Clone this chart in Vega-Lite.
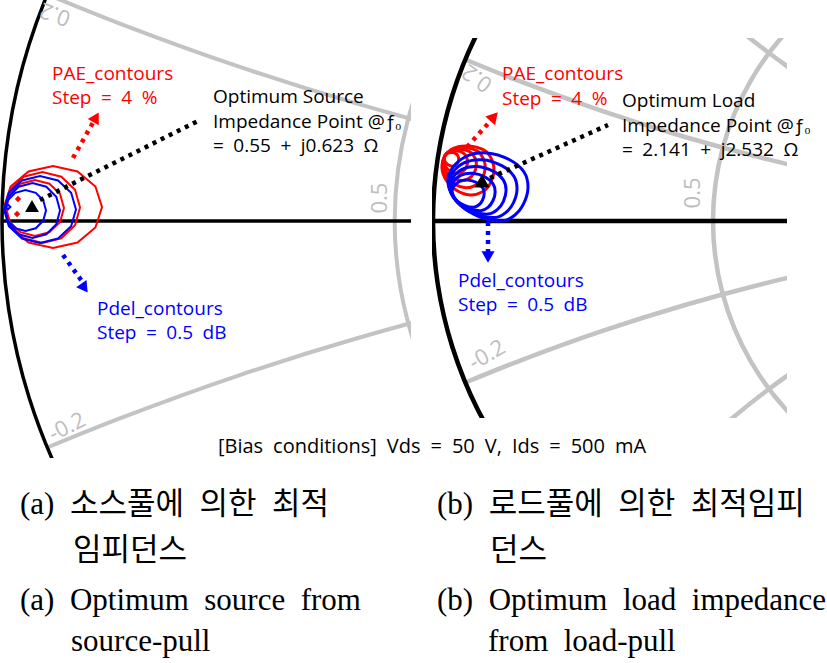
{
  "$schema": "https://vega.github.io/schema/vega-lite/v6.json",
  "padding": 0,
  "spacing": 0,
  "config": {"view": {"stroke": null}, "font": "Open Sans"},
  "datasets": {
    "smithGray": [
      {"c":"x+0.2","i":0,"gx":-0.923,"gy":0.3846},{"c":"x+0.2","i":1,"gx":-0.8,"gy":0.3352},{"c":"x+0.2","i":2,"gx":-0.6,"gy":0.2629},{"c":"x+0.2","i":3,"gx":-0.4,"gy":0.2},{"c":"x+0.2","i":4,"gx":-0.2,"gy":0.1461},{"c":"x+0.2","i":5,"gx":0,"gy":0.101},
      {"c":"x-0.2","i":0,"gx":-0.923,"gy":-0.3846},{"c":"x-0.2","i":1,"gx":-0.8,"gy":-0.3352},{"c":"x-0.2","i":2,"gx":-0.6,"gy":-0.2629},{"c":"x-0.2","i":3,"gx":-0.4,"gy":-0.2},{"c":"x-0.2","i":4,"gx":-0.2,"gy":-0.1461},{"c":"x-0.2","i":5,"gx":0,"gy":-0.101},
      {"c":"r0.5","i":0,"gx":0.1053,"gy":0.6265},{"c":"r0.5","i":1,"gx":0,"gy":0.5774},{"c":"r0.5","i":2,"gx":-0.1381,"gy":0.4714},{"c":"r0.5","i":3,"gx":-0.244,"gy":0.3333},{"c":"r0.5","i":4,"gx":-0.3106,"gy":0.1725},{"c":"r0.5","i":5,"gx":-0.3333,"gy":0},{"c":"r0.5","i":6,"gx":-0.3106,"gy":-0.1725},{"c":"r0.5","i":7,"gx":-0.244,"gy":-0.3333},{"c":"r0.5","i":8,"gx":-0.1381,"gy":-0.4714},{"c":"r0.5","i":9,"gx":0,"gy":-0.5774},{"c":"r0.5","i":10,"gx":0.1053,"gy":-0.6265},
      {"c":"x+0.5","i":0,"gx":-0.6,"gy":0.8},{"c":"x+0.5","i":1,"gx":-0.5,"gy":0.6771},{"c":"x+0.5","i":2,"gx":-0.4,"gy":0.5717},{"c":"x+0.5","i":3,"gx":-0.3,"gy":0.4801},{"c":"x+0.5","i":4,"gx":-0.2,"gy":0.4},{"c":"x+0.5","i":5,"gx":-0.1,"gy":0.3297},{"c":"x+0.5","i":6,"gx":0,"gy":0.2679},
      {"c":"x-0.5","i":0,"gx":-0.6,"gy":-0.8},{"c":"x-0.5","i":1,"gx":-0.5,"gy":-0.6771},{"c":"x-0.5","i":2,"gx":-0.4,"gy":-0.5717},{"c":"x-0.5","i":3,"gx":-0.3,"gy":-0.4801},{"c":"x-0.5","i":4,"gx":-0.2,"gy":-0.4},{"c":"x-0.5","i":5,"gx":-0.1,"gy":-0.3297},{"c":"x-0.5","i":6,"gx":0,"gy":-0.2679}
    ],
    "smithBlack": [
      {"c":"r0","i":0,"gx":-0.8,"gy":0.6},{"c":"r0","i":1,"gx":-0.893,"gy":0.45},{"c":"r0","i":2,"gx":-0.9539,"gy":0.3},{"c":"r0","i":3,"gx":-0.9887,"gy":0.15},{"c":"r0","i":4,"gx":-1,"gy":0},{"c":"r0","i":5,"gx":-0.9887,"gy":-0.15},{"c":"r0","i":6,"gx":-0.9539,"gy":-0.3},{"c":"r0","i":7,"gx":-0.893,"gy":-0.45},{"c":"r0","i":8,"gx":-0.8,"gy":-0.6},
      {"c":"real","i":0,"gx":-1,"gy":0},{"c":"real","i":1,"gx":1,"gy":0}
    ],
    "labelsL": [
      {"t":"0.2","gx":-0.91,"gy":0.3514},{"t":"0.5","gx":-0.3582,"gy":0.039},{"t":"-0.2","gx":-0.8896,"gy":-0.3497}
    ],
    "labelsR": [
      {"t":"0.2","gx":-0.8952,"gy":0.3405},{"t":"0.5","gx":-0.381,"gy":0.0667},{"t":"-0.2","gx":-0.8714,"gy":-0.319}
    ],
    "paeL": [
      {"c":"R1","i":0,"gx":-0.8302,"gy":0.0238},{"c":"R1","i":1,"gx":-0.8414,"gy":0.0586},{"c":"R1","i":2,"gx":-0.8718,"gy":0.0841},{"c":"R1","i":3,"gx":-0.9134,"gy":0.0934},{"c":"R1","i":4,"gx":-0.955,"gy":0.0841},{"c":"R1","i":5,"gx":-0.9855,"gy":0.0586},{"c":"R1","i":6,"gx":-0.9966,"gy":0.0238},{"c":"R1","i":7,"gx":-0.9855,"gy":-0.011},{"c":"R1","i":8,"gx":-0.955,"gy":-0.0365},{"c":"R1","i":9,"gx":-0.9134,"gy":-0.0458},{"c":"R1","i":10,"gx":-0.8718,"gy":-0.0365},{"c":"R1","i":11,"gx":-0.8414,"gy":-0.011},
      {"c":"R2","i":0,"gx":-0.8675,"gy":0.0229},{"c":"R2","i":1,"gx":-0.876,"gy":0.0531},{"c":"R2","i":2,"gx":-0.8993,"gy":0.0751},{"c":"R2","i":3,"gx":-0.9312,"gy":0.0832},{"c":"R2","i":4,"gx":-0.9631,"gy":0.0751},{"c":"R2","i":5,"gx":-0.9864,"gy":0.0531},{"c":"R2","i":6,"gx":-0.9949,"gy":0.0229},{"c":"R2","i":7,"gx":-0.9864,"gy":-0.0073},{"c":"R2","i":8,"gx":-0.9631,"gy":-0.0293},{"c":"R2","i":9,"gx":-0.9312,"gy":-0.0374},{"c":"R2","i":10,"gx":-0.8993,"gy":-0.0293},{"c":"R2","i":11,"gx":-0.876,"gy":-0.0073},
      {"c":"R3","i":0,"gx":-0.8948,"gy":0.0221},{"c":"R3","i":1,"gx":-0.9014,"gy":0.0459},{"c":"R3","i":2,"gx":-0.9194,"gy":0.0632},{"c":"R3","i":3,"gx":-0.944,"gy":0.0696},{"c":"R3","i":4,"gx":-0.9686,"gy":0.0632},{"c":"R3","i":5,"gx":-0.9866,"gy":0.0459},{"c":"R3","i":6,"gx":-0.9932,"gy":0.0221},{"c":"R3","i":7,"gx":-0.9866,"gy":-0.0017},{"c":"R3","i":8,"gx":-0.9686,"gy":-0.019},{"c":"R3","i":9,"gx":-0.944,"gy":-0.0254},{"c":"R3","i":10,"gx":-0.9194,"gy":-0.019},{"c":"R3","i":11,"gx":-0.9014,"gy":-0.0017},
      {"c":"R4a","i":0,"gx":-0.9698,"gy":0.0374},{"c":"R4a","i":1,"gx":-0.9728,"gy":0.0404},{"c":"R4a","i":2,"gx":-0.9758,"gy":0.0374},{"c":"R4a","i":3,"gx":-0.9728,"gy":0.0344},
      {"c":"R4b","i":0,"gx":-0.9715,"gy":0.0119},{"c":"R4b","i":1,"gx":-0.9745,"gy":0.0149},{"c":"R4b","i":2,"gx":-0.9775,"gy":0.0119},{"c":"R4b","i":3,"gx":-0.9745,"gy":0.0089}
    ],
    "pdelL": [
      {"c":"B1","i":0,"gx":-0.8744,"gy":0.0195},{"c":"B1","i":1,"gx":-0.8826,"gy":0.048},{"c":"B1","i":2,"gx":-0.9049,"gy":0.0688},{"c":"B1","i":3,"gx":-0.9355,"gy":0.0764},{"c":"B1","i":4,"gx":-0.9661,"gy":0.0688},{"c":"B1","i":5,"gx":-0.9884,"gy":0.048},{"c":"B1","i":6,"gx":-0.9966,"gy":0.0195},{"c":"B1","i":7,"gx":-0.9884,"gy":-0.009},{"c":"B1","i":8,"gx":-0.9661,"gy":-0.0298},{"c":"B1","i":9,"gx":-0.9355,"gy":-0.0374},{"c":"B1","i":10,"gx":-0.9049,"gy":-0.0298},{"c":"B1","i":11,"gx":-0.8826,"gy":-0.009},
      {"c":"B2","i":0,"gx":-0.9015,"gy":0.0178},{"c":"B2","i":1,"gx":-0.9078,"gy":0.0412},{"c":"B2","i":2,"gx":-0.9248,"gy":0.0582},{"c":"B2","i":3,"gx":-0.9482,"gy":0.0645},{"c":"B2","i":4,"gx":-0.9716,"gy":0.0582},{"c":"B2","i":5,"gx":-0.9886,"gy":0.0412},{"c":"B2","i":6,"gx":-0.9949,"gy":0.0178},{"c":"B2","i":7,"gx":-0.9886,"gy":-0.0056},{"c":"B2","i":8,"gx":-0.9716,"gy":-0.0226},{"c":"B2","i":9,"gx":-0.9482,"gy":-0.0289},{"c":"B2","i":10,"gx":-0.9248,"gy":-0.0226},{"c":"B2","i":11,"gx":-0.9078,"gy":-0.0056},
      {"c":"B3","i":0,"gx":-0.9253,"gy":0.0178},{"c":"B3","i":1,"gx":-0.93,"gy":0.0352},{"c":"B3","i":2,"gx":-0.9427,"gy":0.0479},{"c":"B3","i":3,"gx":-0.9601,"gy":0.0526},{"c":"B3","i":4,"gx":-0.9775,"gy":0.0479},{"c":"B3","i":5,"gx":-0.9902,"gy":0.0352},{"c":"B3","i":6,"gx":-0.9949,"gy":0.0178},{"c":"B3","i":7,"gx":-0.9902,"gy":0.0004},{"c":"B3","i":8,"gx":-0.9775,"gy":-0.0123},{"c":"B3","i":9,"gx":-0.9601,"gy":-0.017},{"c":"B3","i":10,"gx":-0.9427,"gy":-0.0123},{"c":"B3","i":11,"gx":-0.93,"gy":0.0004},
      {"c":"B4","i":0,"gx":-0.9858,"gy":0.0238},{"c":"B4","i":1,"gx":-0.9898,"gy":0.0278},{"c":"B4","i":2,"gx":-0.9938,"gy":0.0238},{"c":"B4","i":3,"gx":-0.9898,"gy":0.0198}
    ],
    "paeR": [
      {"c":"R1","i":0,"gx":-0.9167,"gy":0.1786},{"c":"R1","i":1,"gx":-0.8786,"gy":0.169},{"c":"R1","i":2,"gx":-0.8595,"gy":0.1452},{"c":"R1","i":3,"gx":-0.8548,"gy":0.1167},{"c":"R1","i":4,"gx":-0.8643,"gy":0.0881},{"c":"R1","i":5,"gx":-0.8833,"gy":0.069},{"c":"R1","i":6,"gx":-0.9119,"gy":0.0619},{"c":"R1","i":7,"gx":-0.9452,"gy":0.0738},{"c":"R1","i":8,"gx":-0.969,"gy":0.0976},{"c":"R1","i":9,"gx":-0.9786,"gy":0.1262},{"c":"R1","i":10,"gx":-0.9714,"gy":0.1548},{"c":"R1","i":11,"gx":-0.95,"gy":0.1738},
      {"c":"R2","i":0,"gx":-0.9265,"gy":0.1747},{"c":"R2","i":1,"gx":-0.8953,"gy":0.1669},{"c":"R2","i":2,"gx":-0.8797,"gy":0.1474},{"c":"R2","i":3,"gx":-0.8758,"gy":0.124},{"c":"R2","i":4,"gx":-0.8836,"gy":0.1005},{"c":"R2","i":5,"gx":-0.8992,"gy":0.0849},{"c":"R2","i":6,"gx":-0.9226,"gy":0.079},{"c":"R2","i":7,"gx":-0.95,"gy":0.0888},{"c":"R2","i":8,"gx":-0.9695,"gy":0.1083},{"c":"R2","i":9,"gx":-0.9773,"gy":0.1318},{"c":"R2","i":10,"gx":-0.9714,"gy":0.1552},{"c":"R2","i":11,"gx":-0.9539,"gy":0.1708},
      {"c":"R3","i":0,"gx":-0.9364,"gy":0.1709},{"c":"R3","i":1,"gx":-0.912,"gy":0.1648},{"c":"R3","i":2,"gx":-0.8998,"gy":0.1495},{"c":"R3","i":3,"gx":-0.8968,"gy":0.1312},{"c":"R3","i":4,"gx":-0.9029,"gy":0.113},{"c":"R3","i":5,"gx":-0.9151,"gy":0.1008},{"c":"R3","i":6,"gx":-0.9333,"gy":0.0962},{"c":"R3","i":7,"gx":-0.9547,"gy":0.1038},{"c":"R3","i":8,"gx":-0.9699,"gy":0.1191},{"c":"R3","i":9,"gx":-0.976,"gy":0.1373},{"c":"R3","i":10,"gx":-0.9714,"gy":0.1556},{"c":"R3","i":11,"gx":-0.9577,"gy":0.1678},
      {"c":"R4","i":0,"gx":-0.9462,"gy":0.167},{"c":"R4","i":1,"gx":-0.9287,"gy":0.1626},{"c":"R4","i":2,"gx":-0.92,"gy":0.1517},{"c":"R4","i":3,"gx":-0.9178,"gy":0.1385},{"c":"R4","i":4,"gx":-0.9222,"gy":0.1254},{"c":"R4","i":5,"gx":-0.9309,"gy":0.1166},{"c":"R4","i":6,"gx":-0.9441,"gy":0.1133},{"c":"R4","i":7,"gx":-0.9594,"gy":0.1188},{"c":"R4","i":8,"gx":-0.9703,"gy":0.1298},{"c":"R4","i":9,"gx":-0.9747,"gy":0.1429},{"c":"R4","i":10,"gx":-0.9714,"gy":0.1561},{"c":"R4","i":11,"gx":-0.9616,"gy":0.1648},
      {"c":"R5","i":0,"gx":-0.9561,"gy":0.1631},{"c":"R5","i":1,"gx":-0.9454,"gy":0.1605},{"c":"R5","i":2,"gx":-0.9401,"gy":0.1538},{"c":"R5","i":3,"gx":-0.9388,"gy":0.1458},{"c":"R5","i":4,"gx":-0.9414,"gy":0.1378},{"c":"R5","i":5,"gx":-0.9468,"gy":0.1325},{"c":"R5","i":6,"gx":-0.9548,"gy":0.1305},{"c":"R5","i":7,"gx":-0.9641,"gy":0.1338},{"c":"R5","i":8,"gx":-0.9708,"gy":0.1405},{"c":"R5","i":9,"gx":-0.9734,"gy":0.1485},{"c":"R5","i":10,"gx":-0.9714,"gy":0.1565},{"c":"R5","i":11,"gx":-0.9654,"gy":0.1618}
    ],
    "pdelR": [
      {"c":"B1","i":0,"gx":-0.8714,"gy":0.1619},{"c":"B1","i":1,"gx":-0.8167,"gy":0.1452},{"c":"B1","i":2,"gx":-0.7833,"gy":0.1167},{"c":"B1","i":3,"gx":-0.7738,"gy":0.081},{"c":"B1","i":4,"gx":-0.7833,"gy":0.0429},{"c":"B1","i":5,"gx":-0.8048,"gy":0.0143},{"c":"B1","i":6,"gx":-0.8357,"gy":0.0},{"c":"B1","i":7,"gx":-0.8881,"gy":0.0095},{"c":"B1","i":8,"gx":-0.9357,"gy":0.0381},{"c":"B1","i":9,"gx":-0.9619,"gy":0.0786},{"c":"B1","i":10,"gx":-0.9595,"gy":0.1167},{"c":"B1","i":11,"gx":-0.9238,"gy":0.1524},
      {"c":"B2","i":0,"gx":-0.8829,"gy":0.1458},{"c":"B2","i":1,"gx":-0.8363,"gy":0.1317},{"c":"B2","i":2,"gx":-0.808,"gy":0.1074},{"c":"B2","i":3,"gx":-0.7999,"gy":0.077},{"c":"B2","i":4,"gx":-0.808,"gy":0.0446},{"c":"B2","i":5,"gx":-0.8262,"gy":0.0204},{"c":"B2","i":6,"gx":-0.8525,"gy":0.0082},{"c":"B2","i":7,"gx":-0.897,"gy":0.0163},{"c":"B2","i":8,"gx":-0.9375,"gy":0.0406},{"c":"B2","i":9,"gx":-0.9598,"gy":0.075},{"c":"B2","i":10,"gx":-0.9577,"gy":0.1074},{"c":"B2","i":11,"gx":-0.9274,"gy":0.1377},
      {"c":"B3","i":0,"gx":-0.8943,"gy":0.1298},{"c":"B3","i":1,"gx":-0.856,"gy":0.1181},{"c":"B3","i":2,"gx":-0.8326,"gy":0.0981},{"c":"B3","i":3,"gx":-0.826,"gy":0.0731},{"c":"B3","i":4,"gx":-0.8326,"gy":0.0464},{"c":"B3","i":5,"gx":-0.8476,"gy":0.0264},{"c":"B3","i":6,"gx":-0.8693,"gy":0.0164},{"c":"B3","i":7,"gx":-0.906,"gy":0.0231},{"c":"B3","i":8,"gx":-0.9393,"gy":0.0431},{"c":"B3","i":9,"gx":-0.9576,"gy":0.0714},{"c":"B3","i":10,"gx":-0.956,"gy":0.0981},{"c":"B3","i":11,"gx":-0.931,"gy":0.1231},
      {"c":"B4","i":0,"gx":-0.9057,"gy":0.1137},{"c":"B4","i":1,"gx":-0.8756,"gy":0.1045},{"c":"B4","i":2,"gx":-0.8573,"gy":0.0888},{"c":"B4","i":3,"gx":-0.852,"gy":0.0692},{"c":"B4","i":4,"gx":-0.8573,"gy":0.0482},{"c":"B4","i":5,"gx":-0.869,"gy":0.0325},{"c":"B4","i":6,"gx":-0.8861,"gy":0.0246},{"c":"B4","i":7,"gx":-0.9149,"gy":0.0299},{"c":"B4","i":8,"gx":-0.9411,"gy":0.0456},{"c":"B4","i":9,"gx":-0.9555,"gy":0.0679},{"c":"B4","i":10,"gx":-0.9542,"gy":0.0888},{"c":"B4","i":11,"gx":-0.9345,"gy":0.1085},
      {"c":"B5","i":0,"gx":-0.9171,"gy":0.0976},{"c":"B5","i":1,"gx":-0.8952,"gy":0.091},{"c":"B5","i":2,"gx":-0.8819,"gy":0.0795},{"c":"B5","i":3,"gx":-0.8781,"gy":0.0652},{"c":"B5","i":4,"gx":-0.8819,"gy":0.05},{"c":"B5","i":5,"gx":-0.8905,"gy":0.0386},{"c":"B5","i":6,"gx":-0.9029,"gy":0.0329},{"c":"B5","i":7,"gx":-0.9238,"gy":0.0367},{"c":"B5","i":8,"gx":-0.9429,"gy":0.0481},{"c":"B5","i":9,"gx":-0.9533,"gy":0.0643},{"c":"B5","i":10,"gx":-0.9524,"gy":0.0795},{"c":"B5","i":11,"gx":-0.9381,"gy":0.0938}
    ],
    "leadersL": [
      {"k":"opt","i":0,"gx":-0.9355,"gy":0.0357},{"k":"opt","i":1,"gx":-0.6638,"gy":0.1715},
      {"k":"PAE","i":0,"gx":-0.8795,"gy":0.107},{"k":"PAE","i":1,"gx":-0.8421,"gy":0.1732},
      {"k":"Pdel","i":0,"gx":-0.8964,"gy":-0.0577},{"k":"Pdel","i":1,"gx":-0.8608,"gy":-0.107}
    ],
    "leadersR": [
      {"k":"opt","i":0,"gx":-0.8643,"gy":0.1024},{"k":"opt","i":1,"gx":-0.5833,"gy":0.2286},
      {"k":"PAE","i":0,"gx":-0.919,"gy":0.1762},{"k":"PAE","i":1,"gx":-0.8571,"gy":0.2452},
      {"k":"Pdel","i":0,"gx":-0.869,"gy":-0.0024},{"k":"Pdel","i":1,"gx":-0.869,"gy":-0.0786}
    ],
    "arrowsL": [{"k":"PAE","gx":-0.8404,"gy":0.1761},{"k":"Pdel","gx":-0.8599,"gy":-0.1138}],
    "arrowsR": [{"k":"PAE","gx":-0.8548,"gy":0.2486},{"k":"Pdel","gx":-0.869,"gy":-0.0857}],
    "optL": [{"gx":-0.9491,"gy":0.0255}],
    "optR": [{"gx":-0.8833,"gy":0.0952}],
    "annotL": [
      {"k":"PAE","t":"PAE_contours\nStep\u2002=\u20024\u2002%","gx":-0.9151,"gy":0.2394},
      {"k":"opt","t":"Optimum Source\nImpedance Point @ƒₒ\n=\u20020.55\u2002+\u2002j0.623\u2002Ω","gx":-0.6418,"gy":0.2003},
      {"k":"Pdel","t":"Pdel_contours\nStep\u2002=\u20020.5\u2002dB","gx":-0.8387,"gy":-0.1596}
    ],
    "annotR": [
      {"k":"PAE","t":"PAE_contours\nStep\u2002=\u20024\u2002%","gx":-0.8357,"gy":0.3357},
      {"k":"opt","t":"Optimum Load\nImpedance Point @ƒₒ\n=\u20022.141\u2002+\u2002j2.532\u2002Ω","gx":-0.55,"gy":0.2714},
      {"k":"Pdel","t":"Pdel_contours\nStep\u2002=\u20020.5\u2002dB","gx":-0.9405,"gy":-0.1571}
    ],
    "bias": [{"t":"[Bias\u2002conditions]\u2002Vds\u2002=\u200250\u2002V,\u2002Ids\u2002=\u2002500\u2002mA","gx":-0.2699,"gy":-0.3939}],
    "captions": [
      {"col":"a","line":1,"t":"(a)\u2002소스풀에\u2002의한\u2002최적"},
      {"col":"a","line":2,"t":"임피던스"},
      {"col":"a","line":3,"t":"(a)\u2002Optimum\u2002source\u2002from"},
      {"col":"a","line":4,"t":"source-pull"},
      {"col":"b","line":1,"t":"(b)\u2002로드풀에\u2002의한\u2002최적임피"},
      {"col":"b","line":2,"t":"던스"},
      {"col":"b","line":3,"t":"(b)\u2002Optimum\u2002load\u2002impedance"},
      {"col":"b","line":4,"t":"from\u2002load-pull"}
    ]
  },
  "vconcat": [
    {
      "bounds": "flush",
      "spacing": 21,
      "hconcat": [
        {
          "width": 411,
          "height": 458,
          "encoding": {
            "x": {"field": "gx", "type": "quantitative", "scale": {"domain": [-1.0034, -0.3056], "nice": false, "zero": false}, "axis": null},
            "y": {"field": "gy", "type": "quantitative", "scale": {"domain": [-0.4024, 0.3752], "nice": false, "zero": false}, "axis": null}
          },
          "layer": [
            {"data": {"name": "smithGray"}, "mark": {"type": "line", "clip": true, "color": "#c3c3c3", "strokeWidth": 4, "interpolate": "catmull-rom"}, "encoding": {"detail": {"field": "c"}, "order": {"field": "i"}}},
            {"data": {"name": "smithBlack"}, "mark": {"type": "line", "clip": true, "color": "#000000", "strokeWidth": 3.5, "interpolate": "catmull-rom"}, "encoding": {"detail": {"field": "c"}, "order": {"field": "i"}}},
            {"data": {"name": "labelsL"}, "transform": [{"filter": "datum.t == '0.2'"}], "mark": {"type": "text", "clip": true, "color": "#bdbdbd", "fontSize": 22, "align": "center", "baseline": "middle", "angle": 200}, "encoding": {"text": {"field": "t"}}},
            {"data": {"name": "labelsL"}, "transform": [{"filter": "datum.t == '0.5'"}], "mark": {"type": "text", "clip": true, "color": "#bdbdbd", "fontSize": 22, "align": "center", "baseline": "middle", "angle": 270}, "encoding": {"text": {"field": "t"}}},
            {"data": {"name": "labelsL"}, "transform": [{"filter": "datum.t == '-0.2'"}], "mark": {"type": "text", "clip": true, "color": "#bdbdbd", "fontSize": 22, "align": "center", "baseline": "middle", "angle": 333}, "encoding": {"text": {"field": "t"}}},
            {"data": {"name": "paeL"}, "mark": {"type": "line", "clip": true, "color": "#ff0000", "strokeWidth": 2, "interpolate": "linear-closed"}, "encoding": {"detail": {"field": "c"}, "order": {"field": "i"}}},
            {"data": {"name": "pdelL"}, "mark": {"type": "line", "clip": true, "color": "#0000ff", "strokeWidth": 2, "interpolate": "linear-closed"}, "encoding": {"detail": {"field": "c"}, "order": {"field": "i"}}},
            {"data": {"name": "leadersL"}, "mark": {"type": "line", "strokeWidth": 4.5, "strokeDash": [4, 5], "strokeCap": "butt"}, "encoding": {"detail": {"field": "k"}, "order": {"field": "i"}, "color": {"field": "k", "type": "nominal", "scale": {"domain": ["PAE", "Pdel", "opt"], "range": ["#ff0000", "#0000ff", "#000000"]}, "legend": null}}},
            {"data": {"name": "arrowsL"}, "transform": [{"filter": "datum.k == 'PAE'"}], "mark": {"type": "point", "shape": "triangle-up", "filled": true, "size": 160, "angle": 29.5, "color": "#ff0000", "opacity": 1}},
            {"data": {"name": "arrowsL"}, "transform": [{"filter": "datum.k == 'Pdel'"}], "mark": {"type": "point", "shape": "triangle-up", "filled": true, "size": 160, "angle": 144.6, "color": "#0000ff", "opacity": 1}},
            {"data": {"name": "optL"}, "mark": {"type": "point", "shape": "triangle-up", "filled": true, "size": 190, "color": "#000000", "opacity": 1}},
            {"data": {"name": "annotL"}, "mark": {"type": "text", "align": "left", "baseline": "alphabetic", "fontSize": 19, "lineHeight": 24.5, "lineBreak": "\n"}, "encoding": {"text": {"field": "t"}, "color": {"field": "k", "type": "nominal", "scale": {"domain": ["PAE", "Pdel", "opt"], "range": ["#ff0000", "#0000ff", "#000000"]}, "legend": null}}},
            {"data": {"name": "bias"}, "mark": {"type": "text", "align": "center", "baseline": "alphabetic", "fontSize": 20, "color": "#000000"}, "encoding": {"text": {"field": "t"}}}
          ]
        },
        {
          "bounds": "flush",
          "spacing": 0,
          "vconcat": [
            {"width": 355, "height": 38, "data": {"values": [{"s": 1}]}, "mark": {"type": "point", "opacity": 0}, "encoding": {}},
            {
              "width": 355,
              "height": 380,
              "encoding": {
                "x": {"field": "gx", "type": "quantitative", "scale": {"domain": [-1.00238, -0.15714], "nice": false, "zero": false}, "axis": null},
                "y": {"field": "gy", "type": "quantitative", "scale": {"domain": [-0.46905, 0.43571], "nice": false, "zero": false}, "axis": null}
              },
              "layer": [
                {"data": {"name": "smithGray"}, "mark": {"type": "line", "clip": true, "color": "#c3c3c3", "strokeWidth": 4.5, "interpolate": "catmull-rom"}, "encoding": {"detail": {"field": "c"}, "order": {"field": "i"}}},
                {"data": {"name": "smithBlack"}, "mark": {"type": "line", "clip": true, "color": "#000000", "strokeWidth": 4.5, "interpolate": "catmull-rom"}, "encoding": {"detail": {"field": "c"}, "order": {"field": "i"}}},
                {"data": {"name": "labelsR"}, "transform": [{"filter": "datum.t == '0.2'"}], "mark": {"type": "text", "clip": true, "color": "#bdbdbd", "fontSize": 22, "align": "center", "baseline": "middle", "angle": 215}, "encoding": {"text": {"field": "t"}}},
                {"data": {"name": "labelsR"}, "transform": [{"filter": "datum.t == '0.5'"}], "mark": {"type": "text", "clip": true, "color": "#bdbdbd", "fontSize": 22, "align": "center", "baseline": "middle", "angle": 270}, "encoding": {"text": {"field": "t"}}},
                {"data": {"name": "labelsR"}, "transform": [{"filter": "datum.t == '-0.2'"}], "mark": {"type": "text", "clip": true, "color": "#bdbdbd", "fontSize": 22, "align": "center", "baseline": "middle", "angle": 330}, "encoding": {"text": {"field": "t"}}},
                {"data": {"name": "paeR"}, "mark": {"type": "line", "clip": true, "color": "#ff0000", "strokeWidth": 3, "interpolate": "cardinal-closed"}, "encoding": {"detail": {"field": "c"}, "order": {"field": "i"}}},
                {"data": {"name": "pdelR"}, "mark": {"type": "line", "clip": true, "color": "#0000ff", "strokeWidth": 3, "interpolate": "cardinal-closed"}, "encoding": {"detail": {"field": "c"}, "order": {"field": "i"}}},
                {"data": {"name": "leadersR"}, "mark": {"type": "line", "strokeWidth": 4.5, "strokeDash": [4, 5], "strokeCap": "butt"}, "encoding": {"detail": {"field": "k"}, "order": {"field": "i"}, "color": {"field": "k", "type": "nominal", "scale": {"domain": ["PAE", "Pdel", "opt"], "range": ["#ff0000", "#0000ff", "#000000"]}, "legend": null}}},
                {"data": {"name": "arrowsR"}, "transform": [{"filter": "datum.k == 'PAE'"}], "mark": {"type": "point", "shape": "triangle-up", "filled": true, "size": 170, "angle": 41.5, "color": "#ff0000", "opacity": 1}},
                {"data": {"name": "arrowsR"}, "transform": [{"filter": "datum.k == 'Pdel'"}], "mark": {"type": "point", "shape": "triangle-up", "filled": true, "size": 170, "angle": 180, "color": "#0000ff", "opacity": 1}},
                {"data": {"name": "optR"}, "mark": {"type": "point", "shape": "triangle-up", "filled": true, "size": 230, "color": "#000000", "opacity": 1}},
                {"data": {"name": "annotR"}, "mark": {"type": "text", "align": "left", "baseline": "alphabetic", "fontSize": 19, "lineHeight": 24.5, "lineBreak": "\n"}, "encoding": {"text": {"field": "t"}, "color": {"field": "k", "type": "nominal", "scale": {"domain": ["PAE", "Pdel", "opt"], "range": ["#ff0000", "#0000ff", "#000000"]}, "legend": null}}}
              ]
            }
          ]
        }
      ]
    },
    {
      "width": 827,
      "height": 205,
      "data": {"name": "captions"},
      "encoding": {
        "x": {"field": "col", "type": "nominal", "scale": {"type": "point", "domain": ["a", "b"], "range": [20, 437], "padding": 0}, "axis": null},
        "y": {"field": "line", "type": "quantitative", "scale": {"domain": [1, 4], "range": [56, 193], "nice": false, "zero": false}, "axis": null},
        "text": {"field": "t"}
      },
      "layer": [
        {"transform": [{"filter": "datum.line == 1"}], "mark": {"type": "text", "align": "left", "baseline": "alphabetic", "font": "Liberation Serif, Noto Sans CJK KR", "fontSize": 31, "color": "#000000"}},
        {"transform": [{"filter": "datum.line == 2"}], "mark": {"type": "text", "align": "left", "baseline": "alphabetic", "font": "Liberation Serif, Noto Sans CJK KR", "fontSize": 31, "dx": 53, "color": "#000000"}},
        {"transform": [{"filter": "datum.line == 3"}], "mark": {"type": "text", "align": "left", "baseline": "alphabetic", "font": "Liberation Serif", "fontSize": 31, "dy": 5, "color": "#000000"}},
        {"transform": [{"filter": "datum.line == 4"}], "mark": {"type": "text", "align": "left", "baseline": "alphabetic", "font": "Liberation Serif", "fontSize": 31, "dx": 51, "color": "#000000"}}
      ]
    }
  ]
}
